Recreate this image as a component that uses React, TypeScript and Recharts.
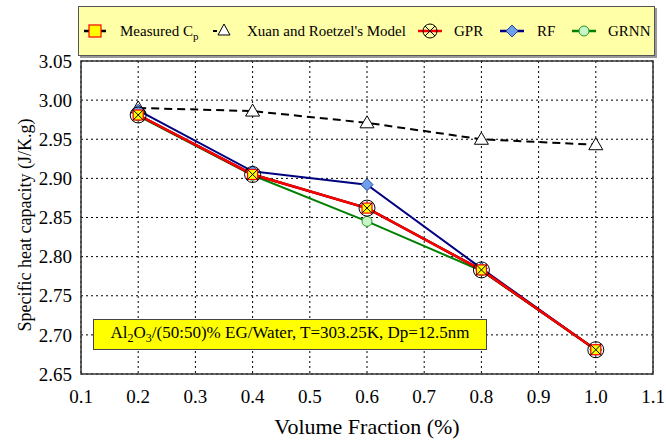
import React from "react"
import {
  LineChart,
  Line,
  XAxis,
  YAxis,
  CartesianGrid,
  ReferenceArea,
  Label,
} from "recharts"

const fractions = [0.2, 0.4, 0.6, 0.8, 1.0]
const measured = [2.981, 2.905, 2.862, 2.783, 2.681]
const xuanModel = [2.99, 2.986, 2.971, 2.95, 2.943]
const gpr = [2.981, 2.905, 2.862, 2.783, 2.681]
const rf = [2.987, 2.909, 2.892, 2.785, 2.681]
const grnn = [2.98, 2.904, 2.845, 2.782, 2.681]

const xTicks = [0.1, 0.2, 0.3, 0.4, 0.5, 0.6, 0.7, 0.8, 0.9, 1.0, 1.1]
const yTicks = [2.65, 2.7, 2.75, 2.8, 2.85, 2.9, 2.95, 3.0, 3.05]

const data = fractions.map((x, i) => ({
  x,
  measured: measured[i],
  xuan: xuanModel[i],
  gpr: gpr[i],
  rf: rf[i],
  grnn: grnn[i],
}))

const FONT = "'Liberation Serif', 'Times New Roman', serif"

const SquareDot = (p: any) => (
  <rect x={p.cx - 5} y={p.cy - 5} width={10} height={10} fill="#ffff00" stroke="#ff0000" strokeWidth={1.2} />
)
const TriDot = (p: any) => (
  <path d={`M${p.cx},${p.cy - 7} L${p.cx + 7},${p.cy + 5} L${p.cx - 7},${p.cy + 5} Z`} fill="#fff" stroke="#000" strokeWidth={1} />
)
const CrossCircleDot = (p: any) => (
  <g>
    <circle cx={p.cx} cy={p.cy} r={8} fill="none" stroke="#000" strokeWidth={1} />
    <path d={`M${p.cx - 5.6},${p.cy - 5.6} L${p.cx + 5.6},${p.cy + 5.6} M${p.cx + 5.6},${p.cy - 5.6} L${p.cx - 5.6},${p.cy + 5.6}`} stroke="#000" strokeWidth={1} />
  </g>
)
const DiamondDot = (p: any) => (
  <path d={`M${p.cx},${p.cy - 6} L${p.cx + 6},${p.cy} L${p.cx},${p.cy + 6} L${p.cx - 6},${p.cy} Z`} fill="#6f9fe8" stroke="#2040a0" strokeWidth={1} />
)
const HexDot = (p: any) => (
  <circle cx={p.cx} cy={p.cy} r={5} fill="#c8f5c8" stroke="#1f9a1f" strokeWidth={1} />
)

// legend: icon centre and text start, in px from the legend box's left edge
const legendItem = (icon: React.ReactNode, label: React.ReactNode, iconX: number, textX: number) => (
  <>
    <svg width={30} height={20} style={{ position: "absolute", left: iconX - 15, top: 14 }}>{icon}</svg>
    <span style={{ position: "absolute", left: textX, top: 15, lineHeight: "18px", whiteSpace: "nowrap" }}>{label}</span>
  </>
)

const YTitle = () => (
  <text x={25} y={225} transform="rotate(-90 25 225)" textAnchor="middle" dominantBaseline="central" fill="#000" fontSize={18} fontFamily={FONT}>
    Specific heat capacity (J/K.g)
  </text>
)

export default function App() {
  return (
    <div style={{ position: "relative", width: 666, height: 441, background: "#fff", fontFamily: FONT }}>
      <style>{`body{margin:0} .recharts-text{font-family:${FONT}}`}</style>
      <LineChart width={666} height={441} data={data} margin={{ top: 61, right: 13, bottom: 0, left: 0 }} style={{ fontFamily: FONT }}>
        <CartesianGrid stroke="#000" strokeDasharray="2 3" strokeWidth={1} />
        <XAxis
          dataKey="x"
          type="number"
          domain={[0.1, 1.1]}
          ticks={xTicks}
          tickFormatter={(v) => v.toFixed(1)}
          tick={{ fill: "#000", fontSize: 19, fontFamily: FONT }}
          tickLine={false}
          axisLine={false}
          tickMargin={10}
          height={67}
        >
          <Label value="Volume Fraction (%)" position="insideBottom" offset={7} style={{ fill: "#000", fontSize: 22, fontFamily: FONT }} />
        </XAxis>
        <YAxis
          type="number"
          domain={[2.65, 3.05]}
          ticks={yTicks}
          tickFormatter={(v) => v.toFixed(2)}
          tick={{ fill: "#000", fontSize: 19, fontFamily: FONT }}
          tickLine={false}
          axisLine={false}
          tickMargin={3}
          width={81}
          allowDataOverflow
        >
          <Label content={<YTitle />} />
        </YAxis>
        <ReferenceArea x1={0.1} x2={1.1} y1={2.65} y2={3.05} fill="none" stroke="#333" strokeWidth={1.5} ifOverflow="visible" />
        <Line dataKey="xuan" stroke="#000" strokeWidth={2} strokeDasharray="8 5" dot={<TriDot />} isAnimationActive={false} />
        <Line dataKey="rf" stroke="#000080" strokeWidth={2} dot={<DiamondDot />} isAnimationActive={false} />
        <Line dataKey="grnn" stroke="#008000" strokeWidth={2} dot={<HexDot />} isAnimationActive={false} />
        <Line dataKey="measured" stroke="#000" strokeWidth={2.5} dot={<SquareDot />} isAnimationActive={false} />
        <Line dataKey="gpr" stroke="#ff0000" strokeWidth={2.5} dot={<CrossCircleDot />} isAnimationActive={false} />
      </LineChart>

      <div style={{ position: "absolute", left: 78, top: 6, width: 577, height: 50, background: "#ffffa8", border: "1px solid #555", boxShadow: "2px 2px 0 #999", boxSizing: "border-box", fontSize: 15, color: "#000" }}>
        {legendItem(
          <g><line x1={4} y1={10} x2={26} y2={10} stroke="#000" strokeWidth={2.5} /><rect x={9} y={4} width={12} height={12} fill="#ffff00" stroke="#ff0000" strokeWidth={1.2} /></g>,
          <>Measured C<sub style={{ fontSize: 11 }}>p</sub></>,
          16, 41
        )}
        {legendItem(
          <g><line x1={4} y1={10} x2={26} y2={10} stroke="#000" strokeWidth={2} strokeDasharray="4 18" /><path d="M15,3 L21,14 L9,14 Z" fill="#fff" stroke="#000" /></g>,
          "Xuan and Roetzel's Model",
          145, 168
        )}
        {legendItem(
          <g><line x1={3} y1={10} x2={27} y2={10} stroke="#ff0000" strokeWidth={2.5} /><circle cx={15} cy={10} r={7} fill="none" stroke="#000" /><path d="M10,5 L20,15 M20,5 L10,15" stroke="#000" /></g>,
          "GPR",
          351, 375
        )}
        {legendItem(
          <g><line x1={3} y1={10} x2={27} y2={10} stroke="#000080" strokeWidth={2.5} /><path d="M15,4 L21,10 L15,16 L9,10 Z" fill="#6f9fe8" stroke="#2040a0" /></g>,
          "RF",
          433, 458
        )}
        {legendItem(
          <g><line x1={3} y1={10} x2={27} y2={10} stroke="#008000" strokeWidth={2.5} /><circle cx={15} cy={10} r={5} fill="#c8f5c8" stroke="#1f9a1f" /></g>,
          "GRNN",
          505, 529
        )}
      </div>

      <div style={{ position: "absolute", left: 93, top: 319, width: 394, height: 31, background: "#ffff00", border: "1px solid #444", boxSizing: "border-box", fontSize: 17, color: "#000", display: "flex", alignItems: "center", justifyContent: "center", whiteSpace: "nowrap" }}>
        <span>Al<sub style={{ fontSize: 12 }}>2</sub>O<sub style={{ fontSize: 12 }}>3</sub>/(50:50)% EG/Water, T=303.25K, Dp=12.5nm</span>
      </div>
    </div>
  )
}
